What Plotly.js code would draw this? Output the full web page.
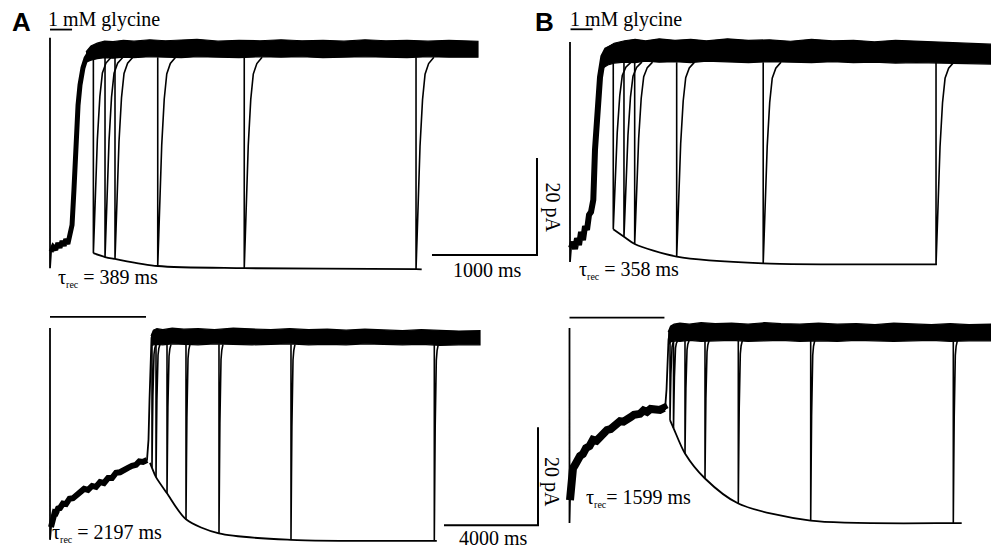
<!DOCTYPE html>
<html><head><meta charset="utf-8">
<script src="https://cdn.plot.ly/plotly-3.0.1.min.js"></script>
<style>html,body{margin:0;padding:0;background:#fff;}#chart{width:991px;height:550px;}</style>
</head><body><div id="chart"></div>
<script>
// ================= DATA (time in ms, current in pA) =================
// recovery of a test response after the brief second glycine pulse (shared kinetics)
const recovT = [0, 10, 20, 38, 62, 86, 120, 170];
const recovFrac = [1, 0.85, 0.68, 0.42, 0.2, 0.08, 0.03, 0];

// ---- Panel A, top (200 ms conditioning pulse), tau_rec = 389 ms ----
const AT_glyT = [0, 210];
const AT_glyI = [3.8, 3.8];
const AT_respT = [0, 0, 10, 30, 55, 75, 95, 115, 135, 150, 170, 190, 210, 228, 248, 267, 286, 314, 343, 381, 429];
const AT_respI = [2.1, -45.4, -42, -41, -41.6, -40.2, -41.2, -39.8, -40.8, -39.4, -40.4, -38.8, -36.5, -29.3, -19, -11.8, -7.6, -4.1, -2.1, -0.8, -0.2];
const AT_bandT = [343, 390, 450, 520, 600, 700, 800, 950, 1100, 1250, 1400, 1600, 1800, 2000, 2200, 2400, 2600, 2800, 3000, 3200, 3400, 3600, 3800, 4076];
const AT_bandTop = [-0.8, 0.4, 1.0, 1.4, 1.3, 1.6, 1.4, 1.7, 1.5, 1.6, 1.8, 1.4, 1.6, 1.5, 1.7, 1.5, 1.6, 1.4, 1.7, 1.5, 1.6, 1.4, 1.6, 1.4];
const AT_bandBot = [-2.9, -2.5, -2.2, -2.0, -2.1, -1.9, -2.0, -1.8, -1.9, -2.0, -1.8, -1.9, -2.0, -1.8, -1.9, -1.8, -2.0, -1.9, -1.8, -1.9, -2.0, -1.8, -1.9, -1.9];
const AT_pulseT = [413, 524, 619, 1026, 1850, 3486];
const AT_pulseI = [-42.3, -43.1, -43.5, -44.95, -45.4, -45.6];
const AT_pulseBase = -1.9;
const AT_fitT = [413, 524, 619, 1026, 1850, 3486, 3540];
const AT_fitI = [-42.3, -43.1, -43.5, -44.95, -45.4, -45.6, -45.65];

// ---- Panel B, top, tau_rec = 358 ms ----
const BT_glyT = [5, 215];
const BT_glyI = [4.27, 4.27];
const BT_respT = [0, 0, 10, 29, 48, 67, 86, 105, 124, 143, 162, 181, 200, 222, 238, 260, 286, 317, 350, 412];
const BT_respI = [1.65, -43.7, -40.8, -39.6, -41.0, -38.8, -40.2, -37.5, -39.2, -36.3, -37.1, -34.0, -33.4, -30.9, -20.6, -12.4, -5.6, -1.4, 0, 0.6];
const BT_bandT = [314, 360, 420, 520, 620, 720, 850, 1000, 1150, 1300, 1500, 1700, 1900, 2100, 2300, 2500, 2700, 2900, 3100, 3300, 3500, 3750, 4020];
const BT_bandTop = [-1.4, 0.6, 1.4, 1.9, 2.2, 1.9, 2.3, 2.0, 2.2, 1.9, 2.3, 2.0, 2.1, 1.8, 2.2, 1.9, 2.0, 1.7, 2.0, 1.8, 1.6, 1.5, 1.2];
const BT_bandBot = [-3.7, -3.1, -2.7, -2.5, -2.6, -2.3, -2.5, -2.4, -2.6, -2.3, -2.4, -2.6, -2.4, -2.5, -2.6, -2.4, -2.6, -2.5, -2.7, -2.6, -2.7, -2.8, -2.9];
const BT_pulseT = [412, 514, 616, 1016, 1840, 3486];
const BT_pulseI = [-36.97, -38.5, -40.0, -42.6, -43.98, -44.19];
const BT_pulseBase = -2.5;
const BT_fitT = [412, 514, 616, 1016, 1840, 3486, 3495];
const BT_fitI = [-36.97, -38.5, -40.0, -42.6, -43.98, -44.19, -44.2];

// ---- Panel A, bottom (4 s conditioning pulse), tau_rec = 2197 ms ----
const AB_glyT = [0, 4085];
const AB_glyI = [4.1, 4.1];
const AB_respT = [0, 0, 43, 128, 200, 255, 340, 426, 550, 681, 830, 979, 1130, 1277, 1450, 1617, 1790, 1957, 2130, 2298, 2470, 2638, 2810, 2979, 3150, 3319, 3490, 3660, 3800, 3957, 4128, 4191, 4234, 4277, 4319, 4383];
const AB_respI = [1.84, -41.4, -38.8, -36.7, -35.8, -35.9, -35.0, -34.9, -34.0, -34.1, -33.0, -32.9, -32.3, -32.0, -31.0, -31.2, -30.4, -30.6, -29.6, -29.8, -28.8, -28.8, -27.7, -27.6, -27.0, -26.7, -26.3, -26.1, -25.4, -25.5, -25.1, -21.0, -12.9, -4.7, -0.2, 0.8];
const AB_bandT = [4300, 4400, 4550, 4800, 5200, 5700, 6300, 7000, 7800, 8600, 9400, 10200, 11000, 11800, 12600, 13400, 14200, 15000, 15800, 16600, 17400, 18298];
const AB_bandTop = [0.2, 1.4, 1.7, 1.5, 1.8, 1.6, 1.7, 1.5, 1.8, 1.6, 1.5, 1.7, 1.5, 1.6, 1.4, 1.6, 1.5, 1.3, 1.5, 1.4, 1.2, 1.3];
const AB_bandBot = [-1.8, -1.6, -1.5, -1.6, -1.4, -1.5, -1.6, -1.4, -1.5, -1.6, -1.5, -1.4, -1.6, -1.5, -1.6, -1.4, -1.5, -1.6, -1.5, -1.7, -1.6, -1.6];
const AB_pulseT = [4340, 4511, 4979, 5787, 7191, 10255, 16353];
const AB_pulseI = [-26.7, -28.6, -31.9, -37.2, -40.1, -41.4, -41.6];
const AB_pulseBase = -1.5;
const AB_fitT = [4255, 4340, 4511, 4979, 5787, 7191, 10255, 16353, 16460];
const AB_fitI = [-25.7, -26.7, -28.6, -31.9, -37.2, -40.1, -41.4, -41.6, -41.6];

// ---- Panel B, bottom, tau_rec = 1599 ms ----
const BB_glyT = [0, 4040];
const BB_glyI = [2.92, 2.92];
const BB_respT = [0, 0, 21, 64, 149, 230, 319, 447, 570, 702, 850, 1000, 1150, 1298, 1450, 1596, 1750, 1894, 2149, 2300, 2447, 2600, 2745, 3000, 3150, 3298, 3450, 3596, 3851, 4021, 4064, 4128, 4170, 4213, 4277, 4404];
const BB_respI = [0.82, -39.0, -34.3, -30.2, -27.8, -27.2, -26.1, -25.3, -24.9, -23.7, -23.3, -22.0, -22.2, -21.4, -20.5, -20.0, -19.8, -19.0, -18.2, -18.3, -17.6, -17.4, -16.9, -16.7, -16.0, -16.3, -15.7, -15.9, -15.9, -15.5, -15.9, -11.8, -5.7, -1.6, 0.4, 1.2];
const BB_bandT = [4200, 4300, 4450, 4700, 5100, 5600, 6200, 6900, 7600, 8300, 9000, 9800, 10600, 11400, 12200, 13000, 13800, 14600, 15400, 16200, 17000, 17940];
const BB_bandTop = [0, 1.2, 1.6, 1.8, 1.6, 1.9, 1.7, 1.8, 1.6, 1.9, 1.7, 1.6, 1.8, 1.6, 1.7, 1.5, 1.8, 1.6, 1.5, 1.7, 1.5, 1.6];
const BB_bandBot = [-2.7, -2.0, -1.8, -1.9, -1.7, -1.9, -1.8, -1.7, -1.9, -1.8, -1.7, -1.9, -1.8, -1.9, -1.7, -1.8, -1.9, -1.8, -1.7, -1.9, -1.8, -1.8];
const BB_pulseT = [4277, 4426, 4915, 5766, 7183, 10264, 16332];
const BB_pulseI = [-18.0, -19.6, -24.8, -29.9, -35.0, -38.5, -39.0];
const BB_pulseBase = -1.8;
const BB_fitT = [4277, 4426, 4915, 5766, 7183, 10264, 16332, 16690];
const BB_fitI = [-18.0, -19.6, -24.8, -29.9, -35.0, -38.5, -39.0, -39.0];

// ---- scale bars ----
const scaleTopT = [3638, 4638, 4638];      // 1000 ms
const scaleTopI = [-42.7, -42.7, -22.7];   // 20 pA
const scaleBotT = [16766, 20766, 20766];   // 4000 ms
const scaleBotI = [-38.4, -38.4, -18.4];   // 20 pA

// ================= BUILD =================
const W = 991, H = 550;
const panels = [
  {x0:50,    y0:48,  msPx:1000/105, pAPx:20/97, glyT:AT_glyT, glyI:AT_glyI, respT:AT_respT, respI:AT_respI, thickEnd:AT_respT.length, thickW:5,
   bandT:AT_bandT, bandTop:AT_bandTop, bandBot:AT_bandBot, pulseT:AT_pulseT, pulseI:AT_pulseI, base:AT_pulseBase, fitT:AT_fitT, fitI:AT_fitI},
  {x0:570,   y0:50,  msPx:1000/105, pAPx:20/97, glyT:BT_glyT, glyI:BT_glyI, respT:BT_respT, respI:BT_respI, thickEnd:BT_respT.length, thickW:6,
   bandT:BT_bandT, bandTop:BT_bandTop, bandBot:BT_bandBot, pulseT:BT_pulseT, pulseI:BT_pulseI, base:BT_pulseBase, fitT:BT_fitT, fitI:BT_fitI},
  {x0:50,    y0:337, msPx:4000/94,  pAPx:20/98, glyT:AB_glyT, glyI:AB_glyI, respT:AB_respT, respI:AB_respI, thickEnd:31, thickW:6,
   bandT:AB_bandT, bandTop:AB_bandTop, bandBot:AB_bandBot, pulseT:AB_pulseT, pulseI:AB_pulseI, base:AB_pulseBase, fitT:AB_fitT, fitI:AB_fitI},
  {x0:569.5, y0:332, msPx:4000/94,  pAPx:20/98, glyT:BB_glyT, glyI:BB_glyI, respT:BB_respT, respI:BB_respI, thickEnd:31, thickW:8,
   bandT:BB_bandT, bandTop:BB_bandTop, bandBot:BB_bandBot, pulseT:BB_pulseT, pulseI:BB_pulseI, base:BB_pulseBase, fitT:BB_fitT, fitI:BB_fitI}
];

const traces = [];
const layout = {
  width: W, height: H, margin: {l:0, r:0, t:0, b:0, pad:0},
  paper_bgcolor: '#ffffff', plot_bgcolor: 'rgba(0,0,0,0)', showlegend: false,
  annotations: []
};
const blk = '#000000';

panels.forEach((p, k) => {
  const n = k === 0 ? '' : String(k + 1);
  layout['xaxis' + n] = {domain:[0,1], range:[-p.x0 * p.msPx, (W - p.x0) * p.msPx], visible:false, fixedrange:true, anchor:'y' + n};
  layout['yaxis' + n] = {domain:[0,1], range:[-(H - p.y0) * p.pAPx, p.y0 * p.pAPx], visible:false, fixedrange:true, anchor:'x' + n};
  const ax = {xaxis: 'x' + n, yaxis: 'y' + n, hoverinfo:'skip'};
  // steady-state (baseline) band of the overlaid sweeps
  traces.push(Object.assign({type:'scatter', mode:'lines',
    x: p.bandT.concat(p.bandT.slice().reverse()),
    y: p.bandTop.concat(p.bandBot.slice().reverse()),
    fill:'toself', fillcolor:blk, line:{color:blk, width:1.2}}, ax));
  // conditioning response
  traces.push(Object.assign({type:'scatter', mode:'lines', x:p.respT, y:p.respI, line:{color:blk, width:1.8}}, ax));
  traces.push(Object.assign({type:'scatter', mode:'lines', x:p.respT.slice(2, p.thickEnd), y:p.respI.slice(2, p.thickEnd), line:{color:blk, width:p.thickW}}, ax));
  // test responses
  const px = [], py = [];
  p.pulseT.forEach((t, i) => {
    px.push(t); py.push(p.base);
    recovT.forEach((dt, j) => { px.push(t + dt); py.push(p.base + recovFrac[j] * (p.pulseI[i] - p.base)); });
    px.push(null); py.push(null);
  });
  traces.push(Object.assign({type:'scatter', mode:'lines', x:px, y:py, line:{color:blk, width:1.6}, connectgaps:false}, ax));
  // exponential recovery fit
  traces.push(Object.assign({type:'scatter', mode:'lines', x:p.fitT, y:p.fitI, line:{color:blk, width:1.8, shape:'spline', smoothing:0.8}}, ax));
  // glycine application bar
  traces.push(Object.assign({type:'scatter', mode:'lines', x:p.glyT, y:p.glyI, line:{color:blk, width:1.8}}, ax));
});

// scale bars
traces.push({type:'scatter', mode:'lines', x:scaleTopT, y:scaleTopI, xaxis:'x', yaxis:'y', line:{color:blk, width:2}, hoverinfo:'skip'});
traces.push({type:'scatter', mode:'lines', x:scaleBotT, y:scaleBotI, xaxis:'x3', yaxis:'y3', line:{color:blk, width:2}, hoverinfo:'skip'});

// text
const serif = 'Liberation Serif, Times New Roman, serif';
const sans = 'Liberation Sans, Arial, sans-serif';
function ann(text, x, y, opts) {
  return Object.assign({text:text, x:x / W, y:1 - y / H, xref:'paper', yref:'paper', showarrow:false,
    xanchor:'left', yanchor:'middle', font:{family:serif, size:20, color:blk}}, opts || {});
}
const sub = '<sub><span style="font-size:10px">rec</span></sub>';
layout.annotations = [
  ann('<b>A</b>', 21.5, 22.5, {xanchor:'center', font:{family:sans, size:26, color:blk}}),
  ann('<b>B</b>', 544, 22.5, {xanchor:'center', font:{family:sans, size:26, color:blk}}),
  ann('1 mM glycine', 46, 19),
  ann('1 mM glycine', 568, 19),
  ann('τ' + sub + ' = 389 ms', 56, 278),
  ann('τ' + sub + ' = 358 ms', 577, 270),
  ann('τ' + sub + ' = 2197 ms', 50, 533),
  ann('τ' + sub + '= 1599 ms', 584, 498),
  ann('1000 ms', 487.5, 270, {xanchor:'center'}),
  ann('4000 ms', 493, 550, {xanchor:'center', yanchor:'bottom', borderpad:0}),
  ann('20 pA', 552, 207.5, {xanchor:'center', textangle:90}),
  ann('20 pA', 552, 482, {xanchor:'center', textangle:90})
];

Plotly.newPlot('chart', traces, layout, {staticPlot:true, displayModeBar:false});
</script>
</body></html>
